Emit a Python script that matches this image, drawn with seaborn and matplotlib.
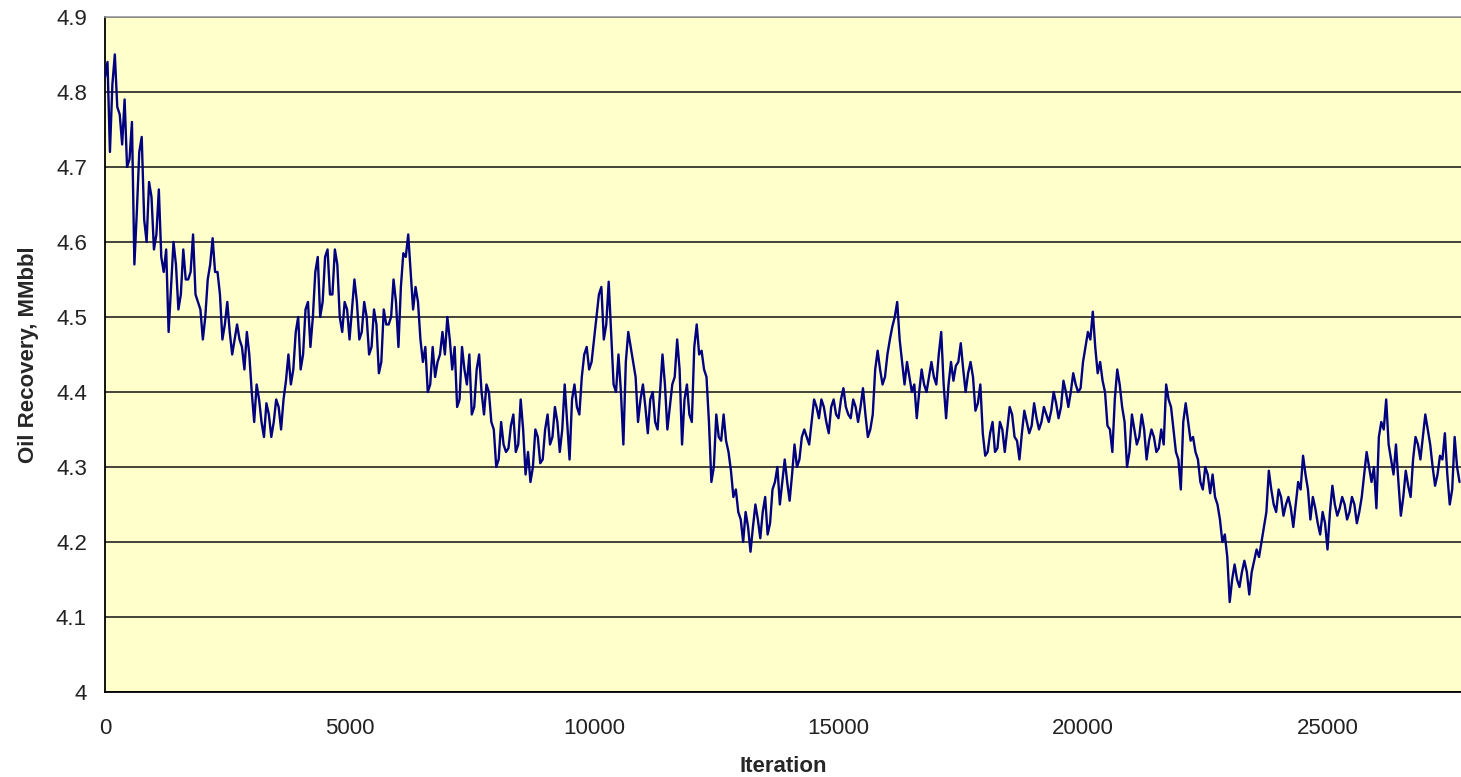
import numpy as np
import pandas as pd
import matplotlib
matplotlib.use("Agg")
import matplotlib.pyplot as plt
import seaborn as sns

# Oil recovery trace (MMbbl), read every 100 iterations (at 0, 100, 200, ...)
oil_recovery = [
    4.82, 4.72, 4.85, 4.77, 4.79, 4.71, 4.57, 4.72, 4.63, 4.68,
    4.59, 4.67, 4.56, 4.48, 4.60, 4.51, 4.59, 4.55, 4.61, 4.52,
    4.47, 4.55, 4.605, 4.56, 4.47, 4.52, 4.45, 4.49, 4.46, 4.48,
    4.40, 4.41, 4.36, 4.385, 4.34, 4.39, 4.35, 4.415, 4.41, 4.48,
    4.43, 4.51, 4.46, 4.56, 4.50, 4.58, 4.53, 4.59, 4.50, 4.52,
    4.47, 4.55, 4.47, 4.52, 4.45, 4.51, 4.425, 4.51, 4.49, 4.55,
    4.46, 4.585, 4.61, 4.51, 4.52, 4.44, 4.40, 4.46, 4.44, 4.48,
    4.50, 4.43, 4.38, 4.46, 4.41, 4.37, 4.43, 4.40, 4.41, 4.36,
    4.30, 4.36, 4.32, 4.355, 4.32, 4.39, 4.29, 4.28, 4.35, 4.305,
    4.35, 4.33, 4.38, 4.32, 4.41, 4.31, 4.41, 4.37, 4.45, 4.43,
    4.47, 4.53, 4.47, 4.547, 4.41, 4.45, 4.33, 4.48, 4.44, 4.36,
    4.41, 4.345, 4.40, 4.35, 4.45, 4.35, 4.41, 4.47, 4.33, 4.41,
    4.36, 4.49, 4.455, 4.42, 4.28, 4.37, 4.335, 4.335, 4.295, 4.27,
    4.23, 4.24, 4.187, 4.25, 4.205, 4.26, 4.225, 4.28, 4.25, 4.31,
    4.255, 4.33, 4.31, 4.35, 4.33, 4.39, 4.365, 4.38, 4.345, 4.39,
    4.365, 4.405, 4.37, 4.39, 4.36, 4.405, 4.34, 4.37, 4.455, 4.41,
    4.45, 4.487, 4.52, 4.44, 4.44, 4.40, 4.365, 4.43, 4.40, 4.44,
    4.41, 4.48, 4.365, 4.44, 4.435, 4.465, 4.40, 4.44, 4.375, 4.41,
    4.315, 4.345, 4.32, 4.36, 4.32, 4.38, 4.34, 4.31, 4.375, 4.345,
    4.385, 4.35, 4.38, 4.36, 4.40, 4.365, 4.415, 4.38, 4.425, 4.40,
    4.44, 4.48, 4.507, 4.425, 4.415, 4.355, 4.32, 4.43, 4.38, 4.30,
    4.37, 4.33, 4.37, 4.31, 4.35, 4.32, 4.35, 4.41, 4.38, 4.32,
    4.27, 4.385, 4.335, 4.32, 4.28, 4.30, 4.265, 4.26, 4.23, 4.21,
    4.12, 4.17, 4.14, 4.175, 4.13, 4.175, 4.18, 4.22, 4.295, 4.25,
    4.27, 4.235, 4.26, 4.22, 4.28, 4.315, 4.27, 4.26, 4.225, 4.24,
    4.19, 4.275, 4.235, 4.26, 4.23, 4.26, 4.225, 4.26, 4.32, 4.28,
    4.245, 4.36, 4.39, 4.31, 4.33, 4.235, 4.295, 4.26, 4.34, 4.31,
    4.37, 4.33, 4.275, 4.315, 4.345, 4.25, 4.34, 4.28,
]

# Readings in between (at 50, 150, 250, ...)
oil_recovery_half = [
    4.84, 4.81, 4.78, 4.73, 4.70, 4.76, 4.64, 4.74, 4.60, 4.66,
    4.61, 4.58, 4.59, 4.54, 4.57, 4.53, 4.55, 4.56, 4.53, 4.51,
    4.50, 4.57, 4.56, 4.53, 4.49, 4.48, 4.47, 4.47, 4.43, 4.45,
    4.36, 4.39, 4.34, 4.37, 4.36, 4.38, 4.39, 4.45, 4.43, 4.50,
    4.45, 4.52, 4.50, 4.58, 4.52, 4.59, 4.53, 4.57, 4.48, 4.51,
    4.51, 4.52, 4.48, 4.50, 4.46, 4.49, 4.44, 4.49, 4.50, 4.52,
    4.54, 4.58, 4.56, 4.54, 4.47, 4.46, 4.41, 4.42, 4.45, 4.45,
    4.47, 4.46, 4.39, 4.43, 4.45, 4.38, 4.45, 4.37, 4.40, 4.35,
    4.31, 4.33, 4.325, 4.37, 4.33, 4.35, 4.32, 4.30, 4.34, 4.31,
    4.37, 4.34, 4.36, 4.35, 4.36, 4.39, 4.38, 4.42, 4.46, 4.44,
    4.50, 4.54, 4.49, 4.48, 4.40, 4.40, 4.44, 4.46, 4.42, 4.39,
    4.38, 4.39, 4.36, 4.40, 4.41, 4.38, 4.42, 4.43, 4.39, 4.37,
    4.46, 4.45, 4.43, 4.36, 4.30, 4.34, 4.37, 4.32, 4.26, 4.24,
    4.20, 4.22, 4.22, 4.23, 4.24, 4.21, 4.27, 4.30, 4.28, 4.28,
    4.29, 4.30, 4.34, 4.34, 4.36, 4.38, 4.39, 4.36, 4.38, 4.37,
    4.39, 4.38, 4.365, 4.38, 4.38, 4.37, 4.35, 4.43, 4.43, 4.42,
    4.47, 4.50, 4.47, 4.41, 4.42, 4.41, 4.40, 4.41, 4.42, 4.42,
    4.45, 4.41, 4.41, 4.415, 4.44, 4.43, 4.425, 4.42, 4.385, 4.345,
    4.32, 4.36, 4.325, 4.35, 4.35, 4.37, 4.335, 4.345, 4.36, 4.355,
    4.365, 4.36, 4.37, 4.375, 4.385, 4.38, 4.40, 4.40, 4.41, 4.405,
    4.46, 4.47, 4.46, 4.44, 4.40, 4.35, 4.39, 4.41, 4.36, 4.32,
    4.35, 4.34, 4.35, 4.335, 4.34, 4.325, 4.33, 4.39, 4.35, 4.31,
    4.36, 4.36, 4.34, 4.31, 4.27, 4.29, 4.29, 4.25, 4.20, 4.18,
    4.15, 4.15, 4.16, 4.16, 4.16, 4.19, 4.20, 4.24, 4.27, 4.24,
    4.26, 4.25, 4.245, 4.25, 4.27, 4.29, 4.23, 4.245, 4.21, 4.225,
    4.24, 4.25, 4.245, 4.25, 4.24, 4.25, 4.24, 4.29, 4.30, 4.30,
    4.34, 4.35, 4.33, 4.29, 4.28, 4.26, 4.275, 4.31, 4.33, 4.34,
    4.35, 4.30, 4.29, 4.31, 4.29, 4.27, 4.30,
]

iterations = np.arange(len(oil_recovery)) * 100
iterations_half = np.arange(len(oil_recovery_half)) * 100 + 50

x_ticks = [0, 5000, 10000, 15000, 20000, 25000]
y_ticks = [4.0, 4.1, 4.2, 4.3, 4.4, 4.5, 4.6, 4.7, 4.8, 4.9]
y_tick_labels = ["4", "4.1", "4.2", "4.3", "4.4", "4.5", "4.6", "4.7", "4.8", "4.9"]

df = pd.concat([
    pd.DataFrame({"Iteration": iterations, "Oil": oil_recovery}),
    pd.DataFrame({"Iteration": iterations_half, "Oil": oil_recovery_half}),
]).sort_values("Iteration").reset_index(drop=True)

sns.set_style("white")
plt.rcParams["font.family"] = ["Liberation Sans", "DejaVu Sans"]

fig = plt.figure(figsize=(14.61, 7.77), dpi=100)
ax = fig.add_axes([0.0719, 0.1094, 0.9281, 0.8688])
ax.set_facecolor("#FFFFCC")

sns.lineplot(data=df, x="Iteration", y="Oil", ax=ax, color="#000080",
             linewidth=1.7, estimator=None, sort=False, zorder=3)

ax.set_xlim(0, 27730)
ax.set_ylim(4.0, 4.9)
ax.set_xticks(x_ticks)
ax.set_xticklabels([str(t) for t in x_ticks])
ax.set_yticks(y_ticks)
ax.set_yticklabels(y_tick_labels)

ax.yaxis.grid(True, color="#111111", linewidth=1.1, zorder=1)
ax.xaxis.grid(False)
ax.set_axisbelow(True)

ax.spines["right"].set_visible(False)
ax.spines["top"].set_visible(True)
ax.spines["top"].set_color("#999999")
ax.spines["top"].set_linewidth(1.2)
for side in ["left", "bottom"]:
    ax.spines[side].set_visible(True)
    ax.spines[side].set_color("black")
    ax.spines[side].set_linewidth(1.3)

ax.tick_params(axis="both", which="major", direction="out", length=7,
               width=1.1, color="black", labelsize=16, labelcolor="#222222")
ax.tick_params(axis="x", pad=12)
ax.tick_params(axis="y", pad=6)

ax.set_xlabel("Iteration", fontsize=16, fontweight="bold", labelpad=12)
ax.set_ylabel("Oil Recovery, MMbbl", fontsize=16, fontweight="bold", labelpad=12)

fig.savefig("out.png", dpi=100)
